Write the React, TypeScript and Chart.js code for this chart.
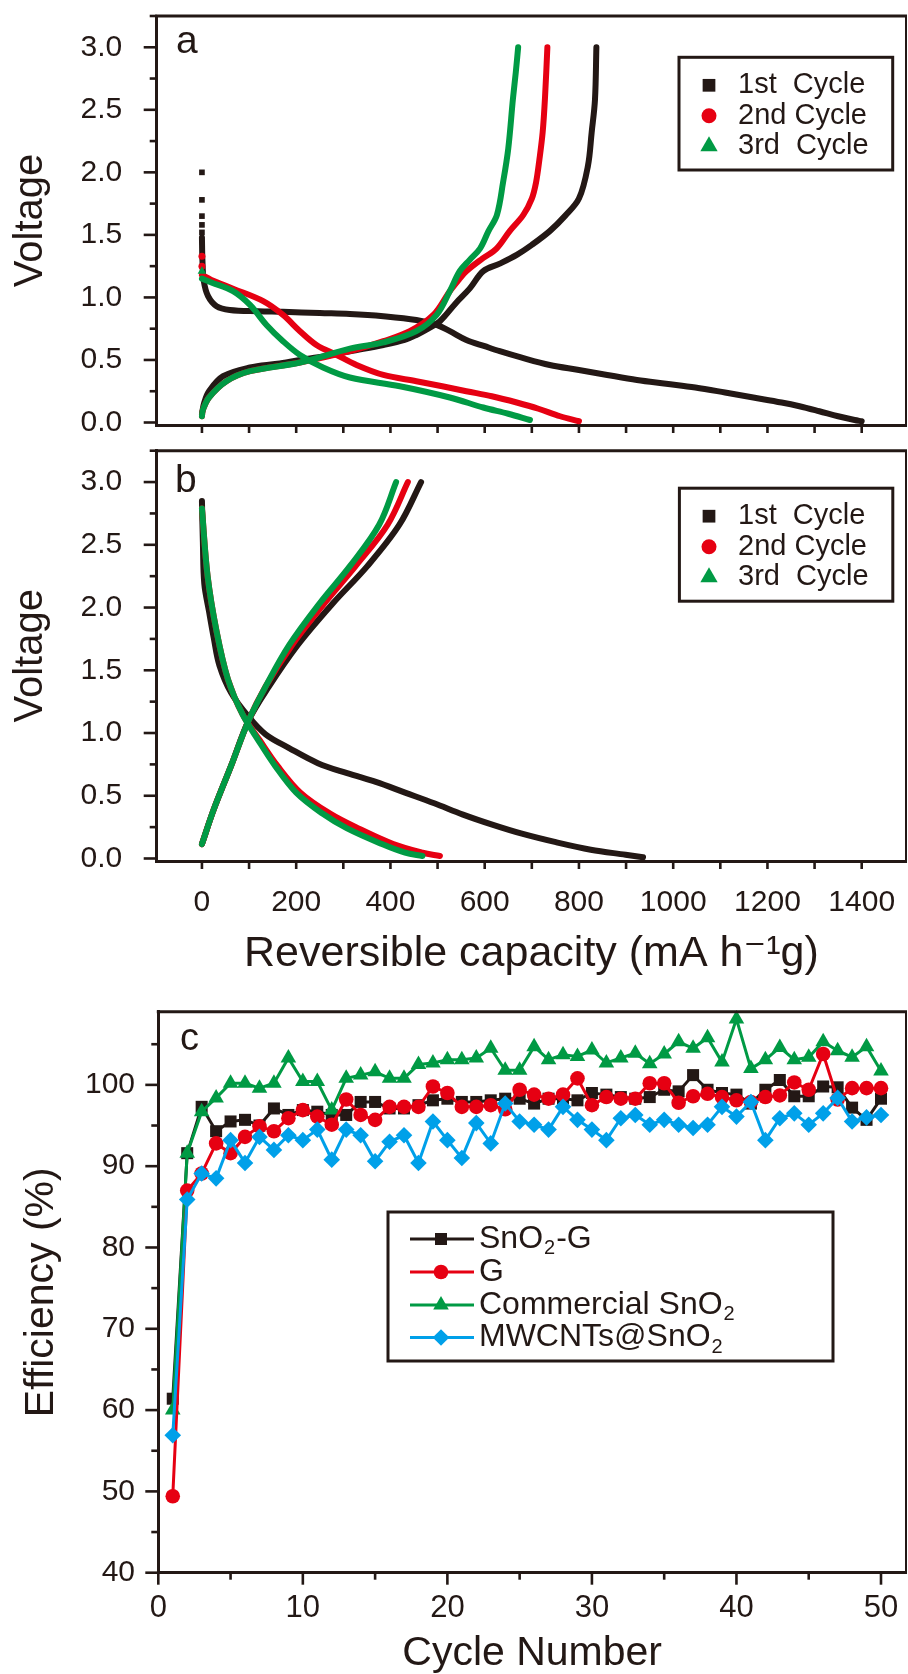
import React, { useEffect, useRef } from 'react';
import { Chart, registerables } from 'chart.js';

Chart.register(...registerables);

const INK = '#231815';
const RED = '#e60012';
const GREEN = '#009a44';
const BLUE = '#00a0e9';
const FONT = '"Liberation Sans", Arial, "DejaVu Sans", sans-serif';

// ---------- axis ticks ----------
const VOLT_TICKS = [0, 0.5, 1, 1.5, 2, 2.5, 3];
const VOLT_MINOR = [0.25, 0.75, 1.25, 1.75, 2.25, 2.75, 3.25];
const CAP_TICKS = [0, 200, 400, 600, 800, 1000, 1200, 1400];
const CAP_MINOR = [100, 300, 500, 700, 900, 1100, 1300];
const EFF_TICKS = [40, 50, 60, 70, 80, 90, 100];
const EFF_MINOR = [45, 55, 65, 75, 85, 95, 105];
const CYCLE_TICKS = [0, 10, 20, 30, 40, 50];
const CYCLE_MINOR = [5, 15, 25, 35, 45];

const CYCLE_LABELS = ['1st  Cycle', '2nd Cycle', '3rd  Cycle'];
const SERIES_C = ['SnO₂-G', 'G', 'Commercial SnO₂', 'MWCNTs@SnO₂'];

// ---------- panel a ----------
const A1_DOT_X = [0, 0, 0, 0, 0];
const A1_DOT_Y = [2.0, 1.78, 1.65, 1.58, 1.52];
const A1_DIS_X = [0, 1, 4, 13, 31, 59, 120, 172, 250, 314, 385, 455, 498, 526, 561, 600, 632, 677, 738, 800, 860, 923, 985, 1047, 1110, 1170, 1230, 1268, 1310, 1350, 1385, 1400];
const A1_DIS_Y = [1.48, 1.30, 1.13, 1.01, 0.93, 0.90, 0.89, 0.885, 0.875, 0.868, 0.85, 0.82, 0.78, 0.73, 0.66, 0.61, 0.57, 0.52, 0.46, 0.42, 0.38, 0.34, 0.31, 0.28, 0.24, 0.20, 0.16, 0.13, 0.09, 0.05, 0.02, 0.01];
const A1_CHG_X = [0, 5, 15, 45, 102, 160, 208, 260, 314, 385, 430, 455, 480, 505, 540, 568, 597, 632, 668, 700, 738, 770, 800, 819, 827, 834, 837];
const A1_CHG_Y = [0.07, 0.16, 0.25, 0.37, 0.44, 0.47, 0.50, 0.53, 0.57, 0.62, 0.66, 0.70, 0.75, 0.81, 0.96, 1.07, 1.21, 1.27, 1.34, 1.42, 1.53, 1.65, 1.79, 2.05, 2.32, 2.58, 3.0];
const A2_DOT_X = [0, 0];
const A2_DOT_Y = [1.33, 1.25];
const A2_DIS_X = [0, 20, 66, 130, 172, 208, 243, 286, 328, 385, 455, 510, 561, 615, 668, 714, 760, 800];
const A2_DIS_Y = [1.18, 1.14, 1.07, 0.97, 0.86, 0.73, 0.62, 0.54, 0.46, 0.38, 0.33, 0.29, 0.25, 0.21, 0.16, 0.11, 0.05, 0.01];
const A2_CHG_X = [0, 2, 15, 52, 102, 208, 314, 385, 441, 491, 526, 547, 561, 595, 625, 653, 682, 700, 709, 716, 723, 728, 733];
const A2_CHG_Y = [0.05, 0.10, 0.20, 0.33, 0.41, 0.48, 0.57, 0.65, 0.73, 0.86, 1.05, 1.15, 1.21, 1.31, 1.39, 1.53, 1.66, 1.79, 1.92, 2.1, 2.32, 2.6, 3.0];
const A3_DOT_X = [0];
const A3_DOT_Y = [1.21];
const A3_DIS_X = [0, 20, 66, 102, 137, 172, 208, 257, 314, 420, 526, 597, 650, 696];
const A3_DIS_Y = [1.15, 1.12, 1.05, 0.94, 0.78, 0.65, 0.54, 0.44, 0.36, 0.29, 0.20, 0.12, 0.07, 0.02];
const A3_CHG_X = [0, 2, 15, 52, 102, 208, 314, 385, 455, 498, 526, 547, 568, 590, 608, 626, 639, 650, 660, 666, 671];
const A3_CHG_Y = [0.05, 0.10, 0.20, 0.33, 0.41, 0.48, 0.59, 0.64, 0.73, 0.86, 1.05, 1.21, 1.30, 1.39, 1.53, 1.66, 1.92, 2.19, 2.59, 2.8, 3.0];

// ---------- panel b ----------
const B1_DIS_X = [0, 2, 5, 15, 25, 37, 62, 99, 135, 185, 246, 308, 369, 431, 493, 554, 616, 677, 751, 825, 899, 936];
const B1_DIS_Y = [2.85, 2.52, 2.19, 1.97, 1.76, 1.54, 1.32, 1.13, 0.99, 0.88, 0.76, 0.68, 0.61, 0.525, 0.44, 0.35, 0.27, 0.20, 0.13, 0.07, 0.03, 0.01];
const B2_DIS_X = [0, 12, 31, 55, 86, 123, 160, 209, 271, 332, 406, 468, 505];
const B2_DIS_Y = [2.79, 2.25, 1.81, 1.43, 1.15, 0.94, 0.74, 0.525, 0.36, 0.24, 0.115, 0.046, 0.02];
const B3_DIS_X = [0, 12, 31, 55, 86, 120, 155, 200, 255, 308, 382, 431, 468];
const B3_DIS_Y = [2.79, 2.25, 1.81, 1.43, 1.15, 0.94, 0.74, 0.525, 0.36, 0.24, 0.115, 0.046, 0.02];
const B1_CHG_X = [0, 25, 62, 99, 142, 203, 277, 351, 419, 465];
const B1_CHG_Y = [0.115, 0.39, 0.74, 1.10, 1.37, 1.70, 2.03, 2.33, 2.66, 3.0];
const B2_CHG_X = [0, 25, 62, 99, 135, 191, 259, 326, 394, 437];
const B2_CHG_Y = [0.115, 0.39, 0.74, 1.10, 1.37, 1.70, 2.03, 2.33, 2.66, 3.0];
const B3_CHG_X = [0, 25, 62, 99, 135, 185, 249, 314, 376, 412];
const B3_CHG_Y = [0.115, 0.39, 0.74, 1.10, 1.37, 1.70, 2.03, 2.33, 2.66, 3.0];

// ---------- panel c ----------
const CYCLES = [1, 2, 3, 4, 5, 6, 7, 8, 9, 10, 11, 12, 13, 14, 15, 16, 17, 18, 19, 20, 21, 22, 23, 24, 25, 26, 27, 28, 29, 30, 31, 32, 33, 34, 35, 36, 37, 38, 39, 40, 41, 42, 43, 44, 45, 46, 47, 48, 49, 50];
const EFF_SNO2_G = [61.4, 91.6, 97.3, 94.3, 95.5, 95.7, 95.0, 97.1, 96.3, 96.9, 96.7, 96.3, 96.3, 97.9, 97.9, 97.1, 97.1, 97.5, 98.1, 98.3, 97.9, 97.9, 98.1, 98.3, 98.3, 97.7, 98.3, 98.3, 98.1, 99.0, 98.8, 98.5, 98.3, 98.5, 99.4, 99.2, 101.2, 99.4, 99.0, 98.8, 97.7, 99.4, 100.6, 98.6, 98.6, 99.8, 99.7, 97.2, 95.7, 98.3];
const EFF_G = [49.4, 87.0, 89.1, 92.8, 91.6, 93.6, 94.9, 94.3, 95.9, 96.9, 96.1, 95.1, 98.2, 96.3, 95.7, 97.3, 97.3, 97.3, 99.8, 99.0, 97.3, 97.3, 97.5, 97.0, 99.4, 98.8, 98.3, 98.8, 100.8, 97.5, 98.5, 98.3, 98.3, 100.2, 100.2, 97.8, 98.6, 98.9, 98.5, 98.1, 97.9, 98.5, 98.7, 100.3, 99.4, 103.8, 98.2, 99.6, 99.6, 99.6];
const EFF_COMMERCIAL = [60.0, 91.6, 96.7, 98.4, 100.2, 100.2, 99.6, 100.2, 103.3, 100.4, 100.4, 96.9, 100.8, 101.2, 101.6, 100.8, 100.8, 102.5, 102.7, 103.1, 103.1, 103.3, 104.5, 101.8, 101.8, 104.7, 103.1, 103.7, 103.5, 104.3, 102.7, 103.3, 103.9, 102.6, 103.8, 105.3, 104.5, 105.8, 102.8, 108.1, 102.0, 103.1, 104.6, 103.1, 103.4, 105.3, 104.2, 103.4, 104.7, 101.7];
const EFF_MWCNT = [56.9, 85.9, 89.1, 88.5, 93.2, 90.4, 93.6, 92.0, 93.8, 93.2, 94.5, 90.8, 94.5, 93.8, 90.6, 93.0, 93.8, 90.4, 95.5, 93.2, 91.0, 95.3, 92.8, 97.7, 95.5, 95.1, 94.5, 97.3, 95.7, 94.5, 93.2, 95.9, 96.3, 95.1, 95.7, 95.1, 94.7, 95.1, 97.3, 96.1, 97.9, 93.2, 95.9, 96.5, 95.1, 96.5, 98.4, 95.5, 96.0, 96.3];

Chart.defaults.font.family = FONT;
Chart.defaults.color = INK;

const xy = (xs: number[], ys: number[]) => xs.map((x, i) => ({ x, y: ys[i] }));

const curve = (label: string, xs: number[], ys: number[], color: string, order: number) => ({
  label,
  data: xy(xs, ys),
  showLine: true,
  borderColor: color,
  backgroundColor: color,
  borderWidth: 6,
  pointRadius: 0,
  tension: 0.35,
  order,
  clip: false,
  borderCapStyle: 'round',
  borderJoinStyle: 'round',
});

const dots = (label: string, xs: number[], ys: number[], color: string, style: string, r: number, order: number) => ({
  label,
  data: xy(xs, ys),
  showLine: false,
  pointStyle: style,
  pointRadius: r,
  pointBorderWidth: 0,
  backgroundColor: color,
  borderColor: color,
  order,
  clip: false,
});

const series = (label: string, ys: number[], color: string, style: string, r: number, order: number) => ({
  label,
  data: xy(CYCLES, ys),
  showLine: true,
  borderColor: color,
  backgroundColor: color,
  borderWidth: 3,
  pointStyle: style,
  pointRadius: r,
  pointBorderWidth: 0,
  pointBackgroundColor: color,
  tension: 0,
  order,
  clip: false,
});

function drawMarker(ctx: CanvasRenderingContext2D, style: string, x: number, y: number, r: number, color: string) {
  ctx.fillStyle = color;
  ctx.beginPath();
  if (style === 'rect') {
    const s = r * Math.SQRT1_2;
    ctx.rect(x - s, y - s, 2 * s, 2 * s);
  } else if (style === 'circle') {
    ctx.arc(x, y, r, 0, Math.PI * 2);
  } else if (style === 'triangle') {
    ctx.moveTo(x, y - r);
    ctx.lineTo(x + r * 0.866, y + r * 0.5);
    ctx.lineTo(x - r * 0.866, y + r * 0.5);
    ctx.closePath();
  } else {
    ctx.moveTo(x - r, y);
    ctx.lineTo(x, y - r);
    ctx.lineTo(x + r, y);
    ctx.lineTo(x, y + r);
    ctx.closePath();
  }
  ctx.fill();
}

function richText(ctx: CanvasRenderingContext2D, text: string, x: number, y: number, size: number) {
  const parts = text.split('₂');
  let cx = x;
  parts.forEach((p, i) => {
    ctx.font = `${size}px ${FONT}`;
    ctx.fillText(p, cx, y);
    cx += ctx.measureText(p).width;
    if (i < parts.length - 1) {
      ctx.font = `${Math.round(size * 0.64)}px ${FONT}`;
      ctx.fillText('2', cx + 1, y + size * 0.3);
      cx += ctx.measureText('2').width + 2;
    }
  });
}

type LegendItem = { text: string; color: string; style: string; r: number };
type FrameOpts = {
  label: string; labelX: number; labelY: number; labelSize: number;
  xMajor: number[]; xMinor: number[]; xMajorLen: number; xMinorLen: number;
  yMajor: number[]; yMinor: number[]; yMajorLen: number; yMinorLen: number;
  legend: {
    box: number[]; rows: number[]; markerX: number; textX: number; size: number;
    line?: number[]; items: LegendItem[];
  };
};

function makeFrame(o: FrameOpts) {
  return {
    id: 'frame',
    afterDatasetsDraw(chart: any) {
      const ctx: CanvasRenderingContext2D = chart.ctx;
      const { left, right, top, bottom } = chart.chartArea;
      const xs = chart.scales.x;
      const ys = chart.scales.y;
      ctx.save();
      ctx.strokeStyle = INK;
      ctx.lineCap = 'butt';
      ctx.lineWidth = 3;
      ctx.beginPath();
      ctx.moveTo(left - 1.5, top);
      ctx.lineTo(right + 1, top);
      ctx.stroke();
      ctx.lineWidth = 2;
      ctx.beginPath();
      ctx.moveTo(right, top);
      ctx.lineTo(right, bottom);
      ctx.stroke();
      ctx.lineWidth = 2.6;
      const tx = (vals: number[], len: number) => {
        for (const v of vals) {
          const p = xs.getPixelForValue(v);
          ctx.beginPath();
          ctx.moveTo(p, bottom);
          ctx.lineTo(p, bottom + len);
          ctx.stroke();
        }
      };
      const ty = (vals: number[], len: number) => {
        for (const v of vals) {
          const p = ys.getPixelForValue(v);
          ctx.beginPath();
          ctx.moveTo(left, p);
          ctx.lineTo(left - len, p);
          ctx.stroke();
        }
      };
      tx(o.xMajor, o.xMajorLen);
      tx(o.xMinor, o.xMinorLen);
      ty(o.yMajor, o.yMajorLen);
      ty(o.yMinor, o.yMinorLen);

      ctx.fillStyle = INK;
      ctx.font = `${o.labelSize}px ${FONT}`;
      ctx.textAlign = 'left';
      ctx.textBaseline = 'alphabetic';
      ctx.fillText(o.label, o.labelX, o.labelY);

      const L = o.legend;
      const [bx1, by1, bx2, by2] = L.box;
      ctx.fillStyle = '#ffffff';
      ctx.fillRect(bx1, by1, bx2 - bx1, by2 - by1);
      ctx.lineWidth = 3;
      ctx.strokeStyle = INK;
      ctx.strokeRect(bx1, by1, bx2 - bx1, by2 - by1);
      ctx.textBaseline = 'middle';
      L.items.forEach((it, i) => {
        const y = by1 + L.rows[i];
        if (L.line) {
          ctx.strokeStyle = it.color;
          ctx.lineWidth = 3;
          ctx.beginPath();
          ctx.moveTo(L.line[0], y);
          ctx.lineTo(L.line[1], y);
          ctx.stroke();
        }
        drawMarker(ctx, it.style, L.markerX, y, it.r, it.color);
        ctx.fillStyle = INK;
        richText(ctx, it.text, L.textX, y, L.size);
      });
      ctx.restore();
    },
  };
}

const baseOptions = (padTop: number) => ({
  animation: false,
  responsive: false,
  maintainAspectRatio: false,
  devicePixelRatio: 1,
  events: [],
  layout: { padding: { left: 0, right: 2, top: padTop, bottom: 0 }, autoPadding: false },
  plugins: { legend: { display: false }, tooltip: { enabled: false } },
});

const voltAxis = () => ({
  type: 'linear',
  position: 'left',
  min: -0.02,
  max: 3.25,
  afterBuildTicks: (s: any) => { s.ticks = VOLT_TICKS.map((v) => ({ value: v })); },
  afterFit: (s: any) => { s.width = 156.7; },
  grid: { display: false, drawTicks: true, tickLength: 34.5 },
  border: { display: true, color: INK, width: 3 },
  ticks: { color: INK, padding: 0, font: { size: 30, lineHeight: 0.5 }, callback: (v: any) => Number(v).toFixed(1) },
  title: { display: true, text: 'Voltage', color: INK, font: { size: 40, lineHeight: 1 }, padding: { top: 10.5, bottom: 0 } },
});

const capAxis = (showLabels: boolean, height: number) => ({
  type: 'linear',
  position: 'bottom',
  min: -96,
  max: 1494,
  afterBuildTicks: (s: any) => { s.ticks = CAP_TICKS.map((v) => ({ value: v })); },
  afterFit: (s: any) => { s.height = height; },
  grid: { display: false, drawTicks: true, tickLength: 24 },
  border: { display: true, color: INK, width: 3 },
  ticks: { display: showLabels, color: INK, padding: 0, maxRotation: 0, autoSkip: false, font: { size: 30 }, callback: (v: any) => String(v) },
  title: {
    display: showLabels,
    text: 'Reversible capacity (mA h⁻¹g)',
    color: INK,
    font: { size: 43, lineHeight: 1 },
    padding: { top: 0, bottom: 24 },
  },
});

const legendAB = (box: number[]) => ({
  box,
  rows: [28, 58.5, 89],
  markerX: 709,
  textX: 738,
  size: 29,
  items: [
    { text: CYCLE_LABELS[0], color: INK, style: 'rect', r: 9 },
    { text: CYCLE_LABELS[1], color: RED, style: 'circle', r: 7.5 },
    { text: CYCLE_LABELS[2], color: GREEN, style: 'triangle', r: 10 },
  ],
});

function configA(): any {
  return {
    type: 'scatter',
    data: {
      datasets: [
        dots(CYCLE_LABELS[0], A1_DOT_X, A1_DOT_Y, INK, 'rect', 4, 3),
        curve(CYCLE_LABELS[0], A1_DIS_X, A1_DIS_Y, INK, 3),
        curve(CYCLE_LABELS[0], A1_CHG_X, A1_CHG_Y, INK, 3),
        dots(CYCLE_LABELS[1], A2_DOT_X, A2_DOT_Y, RED, 'circle', 3.5, 2),
        curve(CYCLE_LABELS[1], A2_DIS_X, A2_DIS_Y, RED, 2),
        curve(CYCLE_LABELS[1], A2_CHG_X, A2_CHG_Y, RED, 2),
        dots(CYCLE_LABELS[2], A3_DOT_X, A3_DOT_Y, GREEN, 'triangle', 5, 1),
        curve(CYCLE_LABELS[2], A3_DIS_X, A3_DIS_Y, GREEN, 1),
        curve(CYCLE_LABELS[2], A3_CHG_X, A3_CHG_Y, GREEN, 1),
      ],
    },
    options: {
      ...baseOptions(16),
      scales: { x: capAxis(false, 15), y: voltAxis() },
    },
    plugins: [
      makeFrame({
        label: 'a', labelX: 176, labelY: 53, labelSize: 39,
        xMajor: CAP_TICKS, xMinor: CAP_MINOR, xMajorLen: 8, xMinorLen: 8,
        yMajor: VOLT_TICKS, yMinor: VOLT_MINOR, yMajorLen: 13, yMinorLen: 7,
        legend: legendAB([679, 57.3, 892.7, 170]),
      }),
    ],
  };
}

function configB(): any {
  return {
    type: 'scatter',
    data: {
      datasets: [
        curve(CYCLE_LABELS[0], B1_DIS_X, B1_DIS_Y, INK, 3),
        curve(CYCLE_LABELS[0], B1_CHG_X, B1_CHG_Y, INK, 3),
        curve(CYCLE_LABELS[1], B2_DIS_X, B2_DIS_Y, RED, 2),
        curve(CYCLE_LABELS[1], B2_CHG_X, B2_CHG_Y, RED, 2),
        curve(CYCLE_LABELS[2], B3_DIS_X, B3_DIS_Y, GREEN, 1),
        curve(CYCLE_LABELS[2], B3_CHG_X, B3_CHG_Y, GREEN, 1),
      ],
    },
    options: {
      ...baseOptions(10.7),
      scales: { x: capAxis(true, 139), y: voltAxis() },
    },
    plugins: [
      makeFrame({
        label: 'b', labelX: 175, labelY: 51.5, labelSize: 39,
        xMajor: CAP_TICKS, xMinor: CAP_MINOR, xMajorLen: 8, xMinorLen: 8,
        yMajor: VOLT_TICKS, yMinor: VOLT_MINOR, yMajorLen: 13, yMinorLen: 7,
        legend: legendAB([679.4, 48.2, 892.8, 161.2]),
      }),
    ],
  };
}

function configC(): any {
  return {
    type: 'scatter',
    data: {
      datasets: [
        series(SERIES_C[0], EFF_SNO2_G, INK, 'rect', 8.5, 3),
        series(SERIES_C[1], EFF_G, RED, 'circle', 7.3, 1),
        series(SERIES_C[2], EFF_COMMERCIAL, GREEN, 'triangle', 9, 2),
        series(SERIES_C[3], EFF_MWCNT, BLUE, 'rectRot', 8.3, 0),
      ],
    },
    options: {
      ...baseOptions(11.7),
      scales: {
        x: {
          type: 'linear',
          position: 'bottom',
          min: 0,
          max: 51.73,
          afterBuildTicks: (s: any) => { s.ticks = CYCLE_TICKS.map((v) => ({ value: v })); },
          afterFit: (s: any) => { s.height = 101.3; },
          grid: { display: false, drawTicks: true, tickLength: 16.7 },
          border: { display: true, color: INK, width: 3 },
          ticks: { color: INK, padding: 0, maxRotation: 0, autoSkip: false, font: { size: 31 }, callback: (v: any) => String(v) },
          title: { display: true, text: 'Cycle Number', color: INK, font: { size: 41, lineHeight: 1 }, padding: { top: 0, bottom: 0 } },
        },
        y: {
          type: 'linear',
          position: 'left',
          min: 40,
          max: 109,
          afterBuildTicks: (s: any) => { s.ticks = EFF_TICKS.map((v) => ({ value: v })); },
          afterFit: (s: any) => { s.width = 158.3; },
          grid: { display: false, drawTicks: true, tickLength: 23.3 },
          border: { display: true, color: INK, width: 3 },
          ticks: { color: INK, padding: 0, font: { size: 30, lineHeight: 0.5 }, callback: (v: any) => String(v) },
          title: { display: true, text: 'Efficiency (%)', color: INK, font: { size: 41, lineHeight: 1 }, padding: { top: 21.5, bottom: 0 } },
        },
      },
    },
    plugins: [
      makeFrame({
        label: 'c', labelX: 180, labelY: 50, labelSize: 38,
        xMajor: CYCLE_TICKS, xMinor: CYCLE_MINOR, xMajorLen: 12, xMinorLen: 7,
        yMajor: EFF_TICKS, yMinor: EFF_MINOR, yMajorLen: 13, yMinorLen: 7,
        legend: {
          box: [388, 212, 833, 361],
          rows: [27, 60, 93, 125.5],
          markerX: 441,
          textX: 479,
          size: 32,
          line: [410, 474],
          items: [
            { text: SERIES_C[0], color: INK, style: 'rect', r: 8.5 },
            { text: SERIES_C[1], color: RED, style: 'circle', r: 7.3 },
            { text: SERIES_C[2], color: GREEN, style: 'triangle', r: 9 },
            { text: SERIES_C[3], color: BLUE, style: 'rectRot', r: 8.3 },
          ],
        },
      }),
    ],
  };
}

export default function App() {
  const refA = useRef<HTMLCanvasElement>(null);
  const refB = useRef<HTMLCanvasElement>(null);
  const refC = useRef<HTMLCanvasElement>(null);

  useEffect(() => {
    const charts = [
      new Chart(refA.current as HTMLCanvasElement, configA()),
      new Chart(refB.current as HTMLCanvasElement, configB()),
      new Chart(refC.current as HTMLCanvasElement, configC()),
    ];
    return () => charts.forEach((c) => c.destroy());
  }, []);

  return (
    <div style={{ position: 'absolute', left: 0, top: 0, width: 908, height: 1674, background: '#ffffff', overflow: 'hidden' }}>
      <canvas ref={refA} width={908} height={440} style={{ position: 'absolute', left: 0, top: 0, width: 908, height: 440 }} />
      <canvas ref={refB} width={908} height={560} style={{ position: 'absolute', left: 0, top: 440, width: 908, height: 560 }} />
      <canvas ref={refC} width={908} height={674} style={{ position: 'absolute', left: 0, top: 1000, width: 908, height: 674 }} />
    </div>
  );
}
